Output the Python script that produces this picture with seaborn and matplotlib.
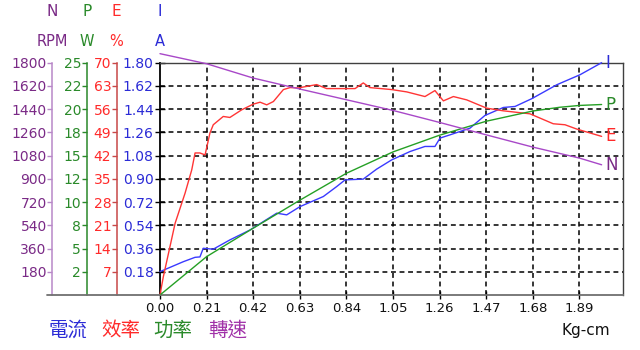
import matplotlib
matplotlib.use("Agg")
import matplotlib.pyplot as plt
import seaborn as sns
import pandas as pd
from matplotlib.lines import Line2D

# ---------------- data ----------------
torque_ticks = [0.00, 0.21, 0.42, 0.63, 0.84, 1.05, 1.26, 1.47, 1.68, 1.89]
torque_labels = ["0.00", "0.21", "0.42", "0.63", "0.84", "1.05", "1.26", "1.47", "1.68", "1.89"]

rpm_ticks = [180, 360, 540, 720, 900, 1080, 1260, 1440, 1620, 1800]
rpm_labels = ["180", "360", "540", "720", "900", "1080", "1260", "1440", "1620", "1800"]
w_ticks = [2.5, 5, 7.5, 10, 12.5, 15, 17.5, 20, 22.5, 25]
w_labels = ["2", "5", "8", "10", "12", "15", "18", "20", "22", "25"]
pct_ticks = [7, 14, 21, 28, 35, 42, 49, 56, 63, 70]
pct_labels = ["7", "14", "21", "28", "35", "42", "49", "56", "63", "70"]
amp_ticks = [0.18, 0.36, 0.54, 0.72, 0.90, 1.08, 1.26, 1.44, 1.62, 1.80]
amp_labels = ["0.18", "0.36", "0.54", "0.72", "0.90", "1.08", "1.26", "1.44", "1.62", "1.80"]

# current I (A)
torque_I = [0.0, 0.105, 0.158, 0.180, 0.195, 0.240, 0.315, 0.406, 0.526, 0.571,
            0.631, 0.736, 0.796, 0.834, 0.916, 0.976, 1.044, 1.127, 1.194, 1.239,
            1.262, 1.307, 1.397, 1.464, 1.547, 1.600, 1.675, 1.788, 1.893, 1.99]
current_A = [0.181, 0.258, 0.292, 0.295, 0.362, 0.355, 0.427, 0.504, 0.634, 0.621,
             0.685, 0.763, 0.840, 0.892, 0.898, 0.975, 1.047, 1.112, 1.151, 1.151,
             1.216, 1.241, 1.293, 1.391, 1.453, 1.461, 1.521, 1.629, 1.707, 1.80]

# efficiency E (%)
torque_E = [0.0, 0.015, 0.045, 0.068, 0.113, 0.143, 0.158, 0.180, 0.203, 0.225,
            0.240, 0.285, 0.315, 0.368, 0.420, 0.451, 0.481, 0.511, 0.556, 0.586,
            0.623, 0.706, 0.751, 0.879, 0.916, 0.946, 1.044, 1.112, 1.194, 1.239,
            1.277, 1.322, 1.382, 1.472, 1.547, 1.667, 1.772, 1.825, 1.878, 1.99]
eff_pct = [0.0, 5.5, 14.6, 21.6, 30.7, 37.7, 42.8, 42.8, 42.2, 48.8,
           51.3, 53.8, 53.5, 55.8, 57.5, 58.1, 57.3, 58.3, 61.9, 62.5,
           62.4, 63.4, 62.2, 62.2, 63.9, 62.5, 61.9, 61.2, 59.8, 61.6,
           58.5, 59.8, 58.8, 56.3, 55.5, 54.6, 51.6, 51.3, 50.0, 47.8]

# output power P (W)
torque_P = [0.0, 0.21, 0.42, 0.63, 0.84, 1.05, 1.26, 1.47, 1.68, 1.80, 1.89, 1.99]
power_W = [0.0, 4.13, 7.19, 10.2, 13.1, 15.4, 17.2, 18.7, 19.8, 20.2, 20.4, 20.5]

# speed N (RPM)
torque_N = [0.0, 0.21, 0.42, 0.63, 0.84, 1.05, 1.26, 1.47, 1.68, 1.89, 1.99]
speed_rpm = [1870, 1792, 1681, 1596, 1513, 1430, 1337, 1241, 1146, 1061, 1009]

# ---------------- style ----------------
BLUE_L, BLUE_T = "#3a3aff", "#2b2bd6"
RED_L, RED_T = "#ff3535", "#ff2a2a"
GREEN_L, GREEN_T = "#25a025", "#2a8a2a"
PURP_L, PURP_T = "#a848c8", "#7a2a86"
CJK = ["Noto Sans CJK TC", "DejaVu Sans"]

sns.set_theme(style="white")
plt.rcParams["font.family"] = ["DejaVu Sans"]

W, H = 640, 350
fig = plt.figure(figsize=(6.4, 3.5), dpi=100)
fig.patch.set_facecolor("white")

L, R, T, B = 160, 622.7, 62.7, 295
ax = fig.add_axes([L / W, 1 - B / H, (R - L) / W, (B - T) / H])
ax.set_facecolor("white")

grid_kw = dict(color="black", lw=1.1, ls=(0, (3.2, 2.4)), zorder=0)
for v in amp_ticks:
    ax.axhline(v, **grid_kw)
for v in torque_ticks[1:]:
    ax.axvline(v, **grid_kw)

# main axis: current
sns.lineplot(x=torque_I, y=current_A, ax=ax, color=BLUE_L, lw=1.0,
             estimator=None, sort=False, clip_on=False, zorder=5)
ax.set_xlim(0, 2.085)
ax.set_ylim(0, 1.80)
ax.set_xticks(torque_ticks)
ax.set_xticklabels(torque_labels)
ax.set_yticks(amp_ticks)
ax.set_yticklabels(amp_labels)
ax.set_xlabel("")
ax.set_ylabel("")
ax.tick_params(axis="x", direction="inout", length=6, width=1, color="black",
               labelsize=9.5, labelcolor="#111111", pad=2, bottom=True)
ax.tick_params(axis="y", direction="inout", length=7, width=1, color="black",
               labelsize=10, labelcolor=BLUE_T, pad=1, left=True)
for s in ["top", "right"]:
    ax.spines[s].set_color("#404040")
    ax.spines[s].set_linewidth(1.0)
ax.spines["left"].set_color("black")
ax.spines["left"].set_linewidth(1.3)
ax.spines["bottom"].set_color("#707070")
ax.spines["bottom"].set_linewidth(1.3)


def side_axis(ylim, ticks, labels, pos_px, spine_col, text_col):
    a = ax.twinx()
    a.set_ylim(*ylim)
    a.yaxis.tick_left()
    a.yaxis.set_label_position("left")
    for s in ["top", "right", "bottom"]:
        a.spines[s].set_visible(False)
    a.spines["left"].set_position(("axes", (pos_px - L) / (R - L)))
    a.spines["left"].set_color(spine_col)
    a.spines["left"].set_linewidth(1.1)
    a.set_yticks(ticks)
    a.set_yticklabels(labels)
    a.tick_params(axis="y", direction="out", length=3.5, width=1, color=spine_col,
                  labelsize=10, labelcolor=text_col, pad=0.5, left=True, right=False)
    a.set_ylabel("")
    return a


ax_e = side_axis((0, 70), pct_ticks, pct_labels, 116.7, "#c84848", RED_T)
ax_p = side_axis((0, 25), w_ticks, w_labels, 86.7, "#2a882a", GREEN_T)
ax_n = side_axis((0, 1800), rpm_ticks, rpm_labels, 52.3, "#b888c8", PURP_T)

sns.lineplot(x=torque_E, y=eff_pct, ax=ax_e, color=RED_L, lw=1.0,
             estimator=None, sort=False, clip_on=False, zorder=5)
sns.lineplot(x=torque_P, y=power_W, ax=ax_p, color=GREEN_L, lw=1.0,
             estimator=None, sort=False, clip_on=False, zorder=5)
sns.lineplot(x=torque_N, y=speed_rpm, ax=ax_n, color=PURP_L, lw=1.0,
             estimator=None, sort=False, clip_on=False, zorder=5)
for a in (ax_e, ax_p, ax_n):
    a.set_ylabel("")
    a.set_xlabel("")

# end-of-curve labels
end_kw = dict(textcoords="offset points", va="center", ha="left", fontsize=12,
              annotation_clip=False)
ax.annotate("I", xy=(torque_I[-1], current_A[-1]), xytext=(2.5, 0), color=BLUE_T, **end_kw)
ax_p.annotate("P", xy=(torque_P[-1], power_W[-1]), xytext=(2.5, 0), color=GREEN_T, **end_kw)
ax_e.annotate("E", xy=(torque_E[-1], eff_pct[-1]), xytext=(2.5, 0), color=RED_T, **end_kw)
ax_n.annotate("N", xy=(torque_N[-1], speed_rpm[-1]), xytext=(2.5, 0), color=PURP_T, **end_kw)

# extension of baseline under the side axes
fig.add_artist(Line2D([46.5 / W, L / W], [1 - B / H, 1 - B / H], transform=fig.transFigure,
                      color="#707070", lw=1.3))

# headers
def ftext(px, py, s, col, size, **kw):
    fig.text(px / W, 1 - py / H, s, color=col, fontsize=size, ha="center", va="center", **kw)


ftext(52.5, 11, "N", PURP_T, 11)
ftext(87, 11, "P", GREEN_T, 11)
ftext(116, 11, "E", RED_T, 11)
ftext(160, 11, "I", BLUE_T, 11)
ftext(52.5, 42, "RPM", PURP_T, 10.5)
ftext(86.5, 42, "W", GREEN_T, 10.5)
ftext(116.5, 42, "%", RED_T, 10.5)
ftext(160, 42, "A", BLUE_T, 10.5)

# legend words
ftext(68, 330, "電流", BLUE_T, 14, family=CJK)
ftext(121, 330, "效率", RED_T, 14, family=CJK)
ftext(173, 330, "功率", GREEN_T, 14, family=CJK)
ftext(228, 330, "轉速", "#a030a8", 14, family=CJK)
ftext(586, 331, "Kg-cm", "#111111", 11)

fig.savefig("out.png", dpi=100, facecolor="white")
